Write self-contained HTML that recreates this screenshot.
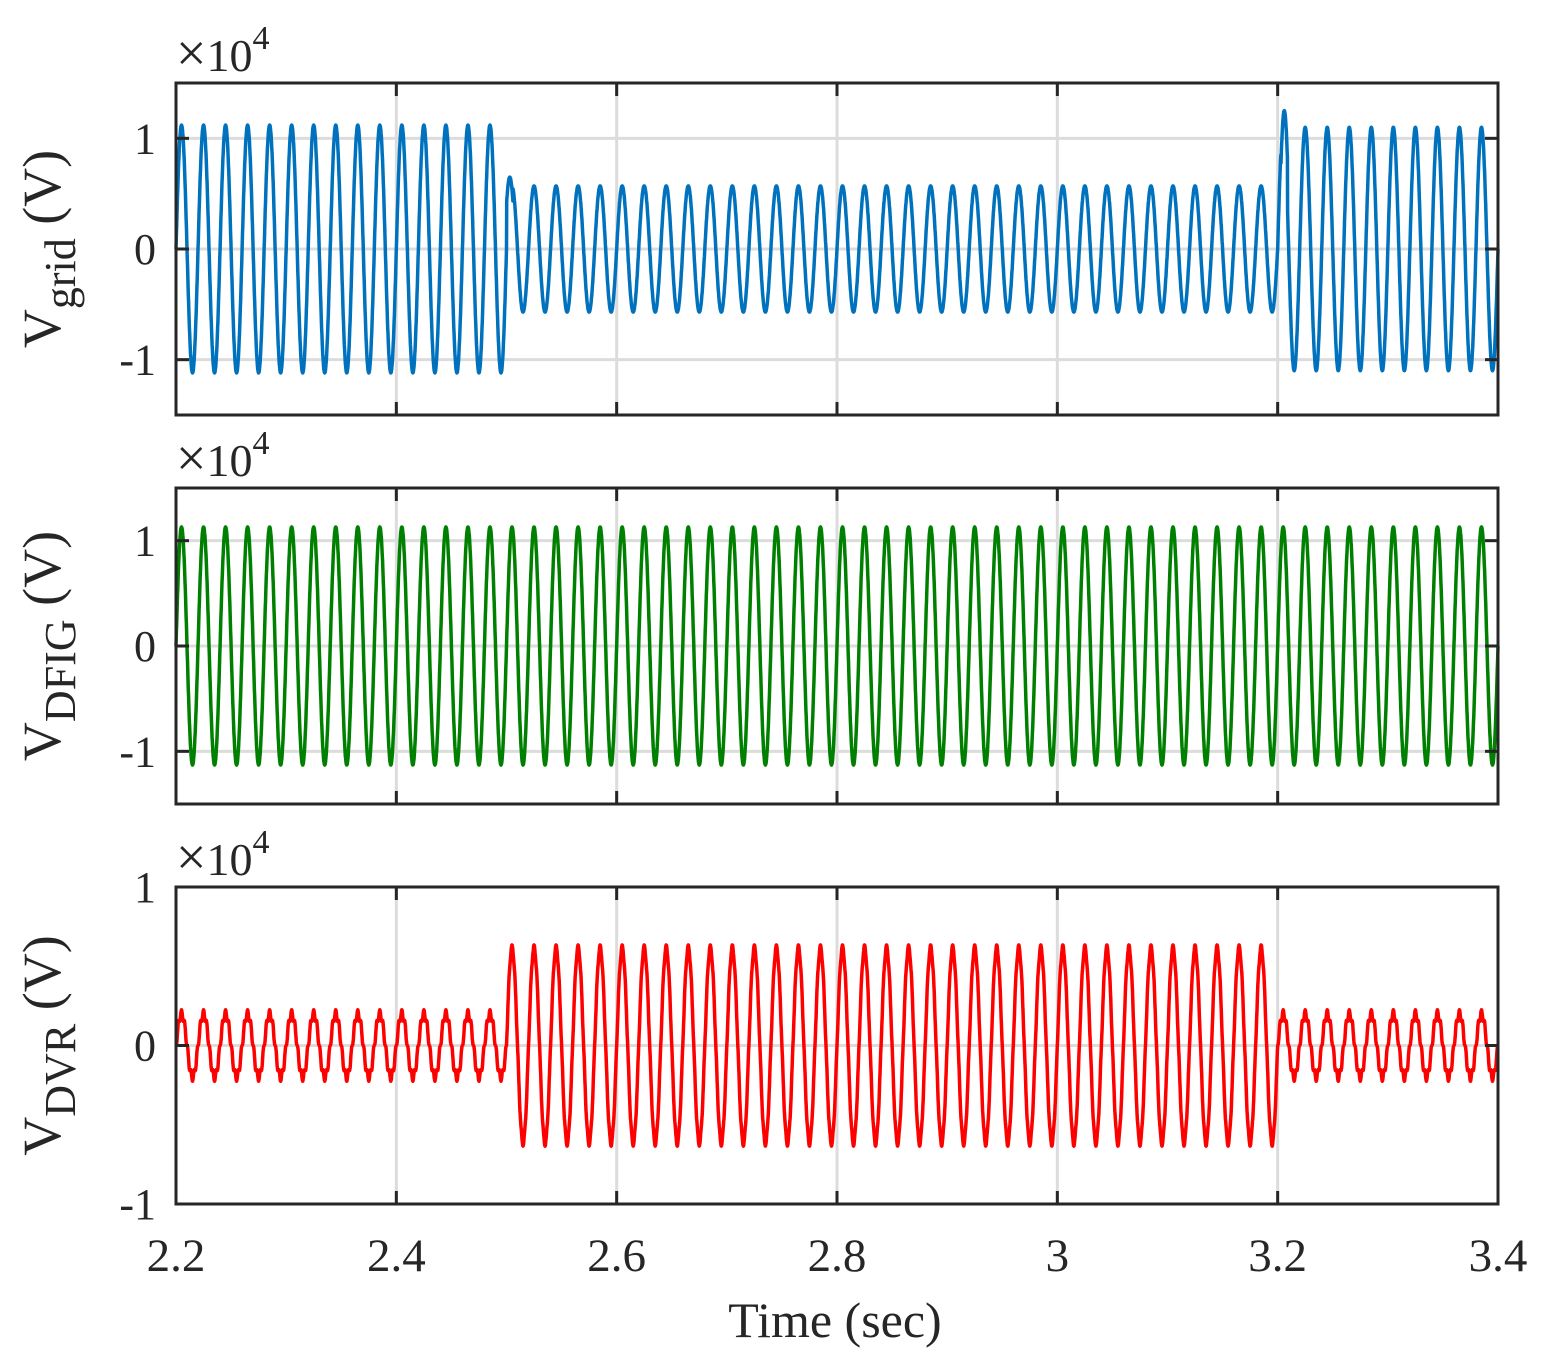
<!DOCTYPE html>
<html><head><meta charset="utf-8"><style>
body{margin:0;background:#fff}
svg{display:block;font-family:"Liberation Serif",serif}
</style></head><body>
<svg id="chart" width="1545" height="1360" xmlns="http://www.w3.org/2000/svg"></svg>
<script>
// data
const xTicks=[2.2,2.4,2.6,2.8,3.0,3.2,3.4];
const xTickLabels=["2.2","2.4","2.6","2.8","3","3.2","3.4"];
const sagStart=2.5, sagEnd=3.2, freq=50, peakTime=2.205;
const gridAmps=[1.12,0.57,1.1];      // before, during, after sag (x1e4 V)
const dfigAmps=[1.13,1.13,1.13];
const dvrAmps=[0.2,0.62,0.2];
const dvrHarm=[0.025,0.015,0.025];
const gridSpikes=[[2.503,0.65],[3.206,1.25]];
const panelNames=["grid","DFIG","DVR"];
const colors=["#0072BD","#008000","#FF0000"];

const svg=document.getElementById('chart');
const NS="http://www.w3.org/2000/svg";
function mk(t,a,p){const e=document.createElementNS(NS,t);for(const k in a)e.setAttribute(k,a[k]);(p||svg).appendChild(e);return e;}
const X0=176,X1=1498;
const xs=t=>X0+(t-2.2)/1.2*(X1-X0);
const panels=[
 {top:83,bot:415,ymin:-1.5,ymax:1.5,yt:[-1,0,1],yl:["-1","0","1"]},
 {top:488,bot:804,ymin:-1.5,ymax:1.5,yt:[-1,0,1],yl:["-1","0","1"]},
 {top:887,bot:1204,ymin:-1,ymax:1,yt:[-1,0,1],yl:["-1","0","1"]}
];
function seg(t){return t<sagStart?0:(t<sagEnd?1:2);}
function val(i,t){
 const s=seg(t), ph=2*Math.PI*freq*(t-peakTime);
 if(i===0){let v=gridAmps[s]*Math.cos(ph);
   gridSpikes.forEach(([ts,a])=>{if(Math.abs(t-ts)<0.003)v=a*Math.cos((t-ts)*300);});return v;}
 if(i===1)return dfigAmps[s]*Math.cos(ph);
 return dvrAmps[s]*Math.cos(ph)+dvrHarm[s]*Math.cos(7*ph);
}
panels.forEach((p,i)=>{
 const ys=v=>p.bot-(v-p.ymin)/(p.ymax-p.ymin)*(p.bot-p.top);
 const g=mk('g',{});
 
 
 xTicks.slice(1,-1).forEach(t=>{const l=mk('line',{x1:xs(t),x2:xs(t),y1:p.top,y2:p.bot,stroke:'#dcdcdc','stroke-width':3},g);});
 p.yt.forEach(v=>{if(v>p.ymin&&v<p.ymax){const l=mk('line',{x1:X0,x2:X1,y1:ys(v),y2:ys(v),stroke:'#dcdcdc','stroke-width':3},g);}});
 let d='';
 for(let k=0;k<=6000;k++){const t=2.2+1.2*k/6000;d+=(k?'L':'M')+xs(t).toFixed(1)+','+ys(val(i,t)).toFixed(1);}
 const path=mk('path',{d,fill:'none',stroke:colors[i],'stroke-width':3.5,'stroke-linejoin':'round'},g);
 
 
 const box=mk('rect',{x:X0,y:p.top,width:X1-X0,height:p.bot-p.top,fill:'none',stroke:'#262626','stroke-width':3},g);
 
 
 xTicks.forEach(t=>{mk('line',{x1:xs(t),x2:xs(t),y1:p.bot,y2:p.bot-13,stroke:'#262626','stroke-width':3},g);mk('line',{x1:xs(t),x2:xs(t),y1:p.top,y2:p.top+13,stroke:'#262626','stroke-width':3},g);});
 p.yt.forEach((v,j)=>{mk('line',{x1:X0,x2:X0+13,y1:ys(v),y2:ys(v),stroke:'#262626','stroke-width':3},g);mk('line',{x1:X1,x2:X1-13,y1:ys(v),y2:ys(v),stroke:'#262626','stroke-width':3},g);
  const tx=mk('text',{x:X0-20,y:ys(v)+15,'text-anchor':'end','font-size':44,fill:'#262626'},g);tx.textContent=p.yl[j];
  });
 const ex=mk('text',{x:176,y:p.top-12,'font-size':46,fill:'#262626'},g);
 ex.innerHTML='<tspan font-size="54">×</tspan>10<tspan dy="-22" font-size="34">4</tspan>';
 
 const cy=(p.top+p.bot)/2;
 const yl=mk('text',{transform:`translate(60,${cy}) rotate(-90)`,'text-anchor':'middle','font-size':54,fill:'#262626'},g);
 yl.innerHTML='V<tspan dy="15" font-size="44">'+panelNames[i]+'</tspan><tspan dy="-15"> (V)</tspan>';
 
});
xTicks.forEach((t,j)=>{const tx=mk('text',{x:xs(t),y:1271,'text-anchor':'middle','font-size':47,fill:'#262626'});tx.textContent=xTickLabels[j];
 });
const xt=mk('text',{x:835,y:1337,'text-anchor':'middle','font-size':50,fill:'#262626'});xt.textContent='Time (sec)';


</script>
</body></html>
